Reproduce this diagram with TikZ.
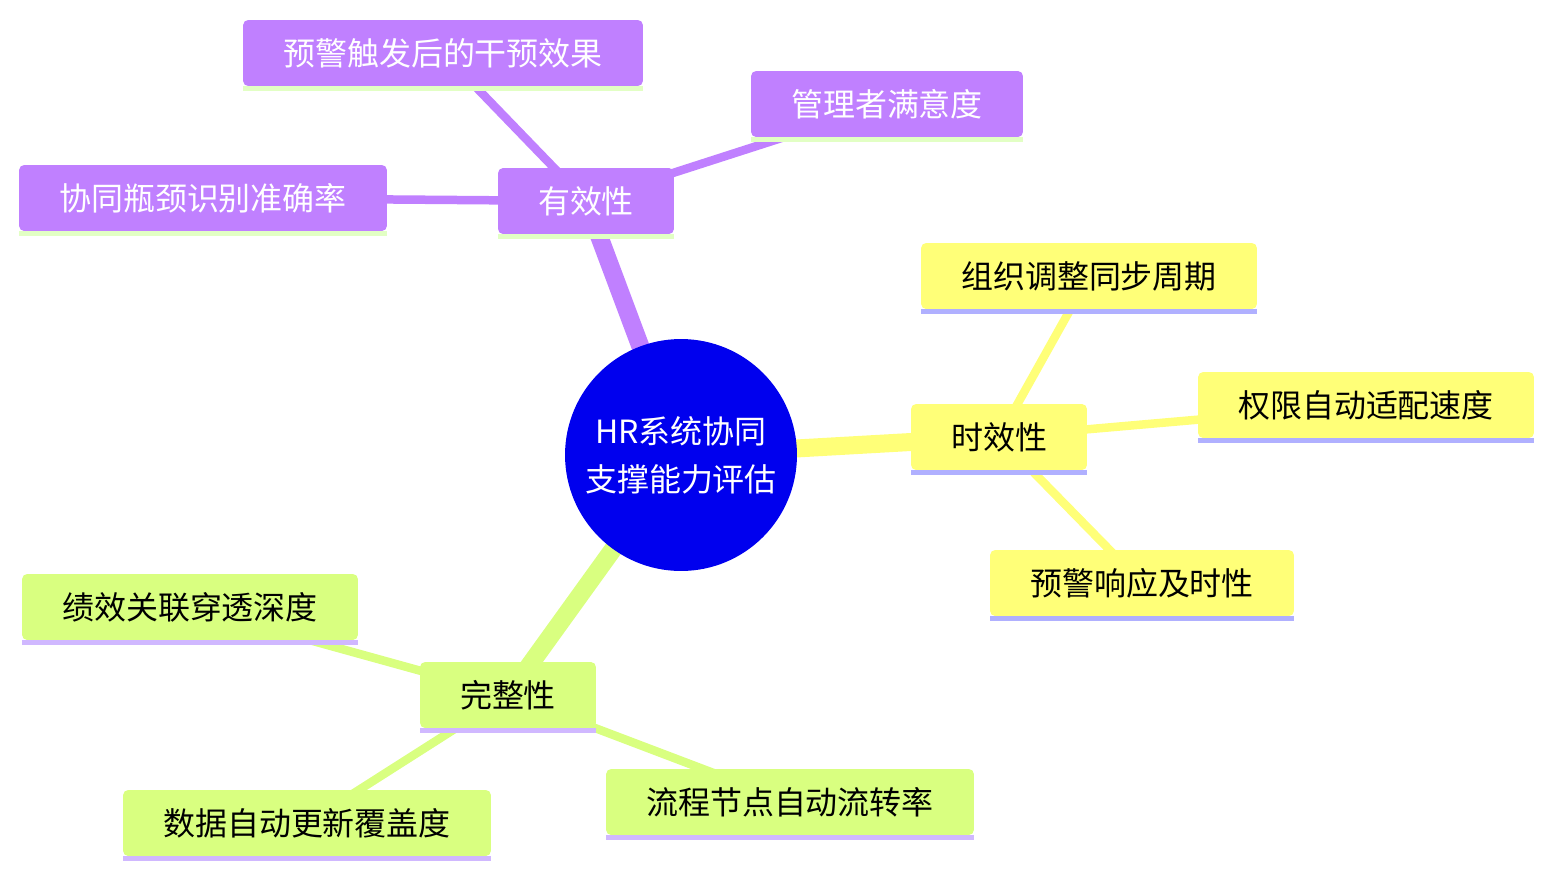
\documentclass[tikz,border=0pt]{standalone}
\usepackage{fontspec}
\newfontfamily\cjk{Noto Sans CJK SC}
\usetikzlibrary{backgrounds}

\definecolor{rootblue}{HTML}{0000EE}
\definecolor{effpurple}{HTML}{C080FF}
\definecolor{timeyellow}{HTML}{FFFF78}
\definecolor{fullgreen}{HTML}{D9FF80}
\definecolor{ulgreen}{HTML}{E2FFC4}
\definecolor{ulblue}{HTML}{B0B0FF}
\definecolor{ullilac}{HTML}{D0B8FF}

\begin{document}
\begin{tikzpicture}[x=0.02cm, y=-0.02cm,
        root/.style={circle, fill=rootblue, text=white, minimum size=4.64cm, inner sep=0pt, align=center, font=\cjk\fontsize{18.2}{27.3}\selectfont},
        topic/.style={rounded corners=0.1cm, minimum height=1.32cm, inner xsep=0.8cm, inner ysep=0pt, font=\cjk\fontsize{18.2}{22}\selectfont},
        effbox/.style={topic, fill=effpurple, text=white},
        timebox/.style={topic, fill=timeyellow, text=black},
        fullbox/.style={topic, fill=fullgreen, text=black},
        mainedge/.style={line width=0.36cm},
        subedge/.style={line width=0.17cm}
    ]

    \useasboundingbox (0,0) rectangle (1554,877);

    % Knoten
    \node[root] (root) at (681,455) {HR系统协同\\支撑能力评估};

    \node[effbox] (eff) at (586,201) {有效性};
    \node[effbox] (eff1) at (443,53) {预警触发后的干预效果};
    \node[effbox] (eff2) at (887,104) {管理者满意度};
    \node[effbox] (eff3) at (203,198) {协同瓶颈识别准确率};

    \node[timebox] (time) at (999,437) {时效性};
    \node[timebox] (time1) at (1089,276) {组织调整同步周期};
    \node[timebox] (time2) at (1366,405) {权限自动适配速度};
    \node[timebox] (time3) at (1142,583) {预警响应及时性};

    \node[fullbox] (full) at (508,695) {完整性};
    \node[fullbox] (full1) at (190,607) {绩效关联穿透深度};
    \node[fullbox] (full2) at (307,823) {数据自动更新覆盖度};
    \node[fullbox] (full3) at (790,802) {流程节点自动流转率};

    % Unterstriche
    \fill[ulgreen] (eff.south west) rectangle ([yshift=-0.1cm]eff.south east);
    \fill[ulgreen] (eff1.south west) rectangle ([yshift=-0.1cm]eff1.south east);
    \fill[ulgreen] (eff2.south west) rectangle ([yshift=-0.1cm]eff2.south east);
    \fill[ulgreen] (eff3.south west) rectangle ([yshift=-0.1cm]eff3.south east);
    \fill[ulblue] (time.south west) rectangle ([yshift=-0.1cm]time.south east);
    \fill[ulblue] (time1.south west) rectangle ([yshift=-0.1cm]time1.south east);
    \fill[ulblue] (time2.south west) rectangle ([yshift=-0.1cm]time2.south east);
    \fill[ulblue] (time3.south west) rectangle ([yshift=-0.1cm]time3.south east);
    \fill[ullilac] (full.south west) rectangle ([yshift=-0.1cm]full.south east);
    \fill[ullilac] (full1.south west) rectangle ([yshift=-0.1cm]full1.south east);
    \fill[ullilac] (full2.south west) rectangle ([yshift=-0.1cm]full2.south east);
    \fill[ullilac] (full3.south west) rectangle ([yshift=-0.1cm]full3.south east);

    % Kanten
    \begin{scope}[on background layer]
        \draw[mainedge, effpurple] (root.center) -- (eff.center);
        \draw[subedge, effpurple] (eff.center) -- (eff1.center);
        \draw[subedge, effpurple] (eff.center) -- (eff2.center);
        \draw[subedge, effpurple] (eff.center) -- (eff3.center);

        \draw[mainedge, timeyellow] (root.center) -- (time.center);
        \draw[subedge, timeyellow] (time.center) -- (time1.center);
        \draw[subedge, timeyellow] (time.center) -- (time2.center);
        \draw[subedge, timeyellow] (time.center) -- (time3.center);

        \draw[mainedge, fullgreen] (root.center) -- (full.center);
        \draw[subedge, fullgreen] (full.center) -- (full1.center);
        \draw[subedge, fullgreen] (full.center) -- (full2.center);
        \draw[subedge, fullgreen] (full.center) -- (full3.center);
    \end{scope}

\end{tikzpicture}
\end{document}
